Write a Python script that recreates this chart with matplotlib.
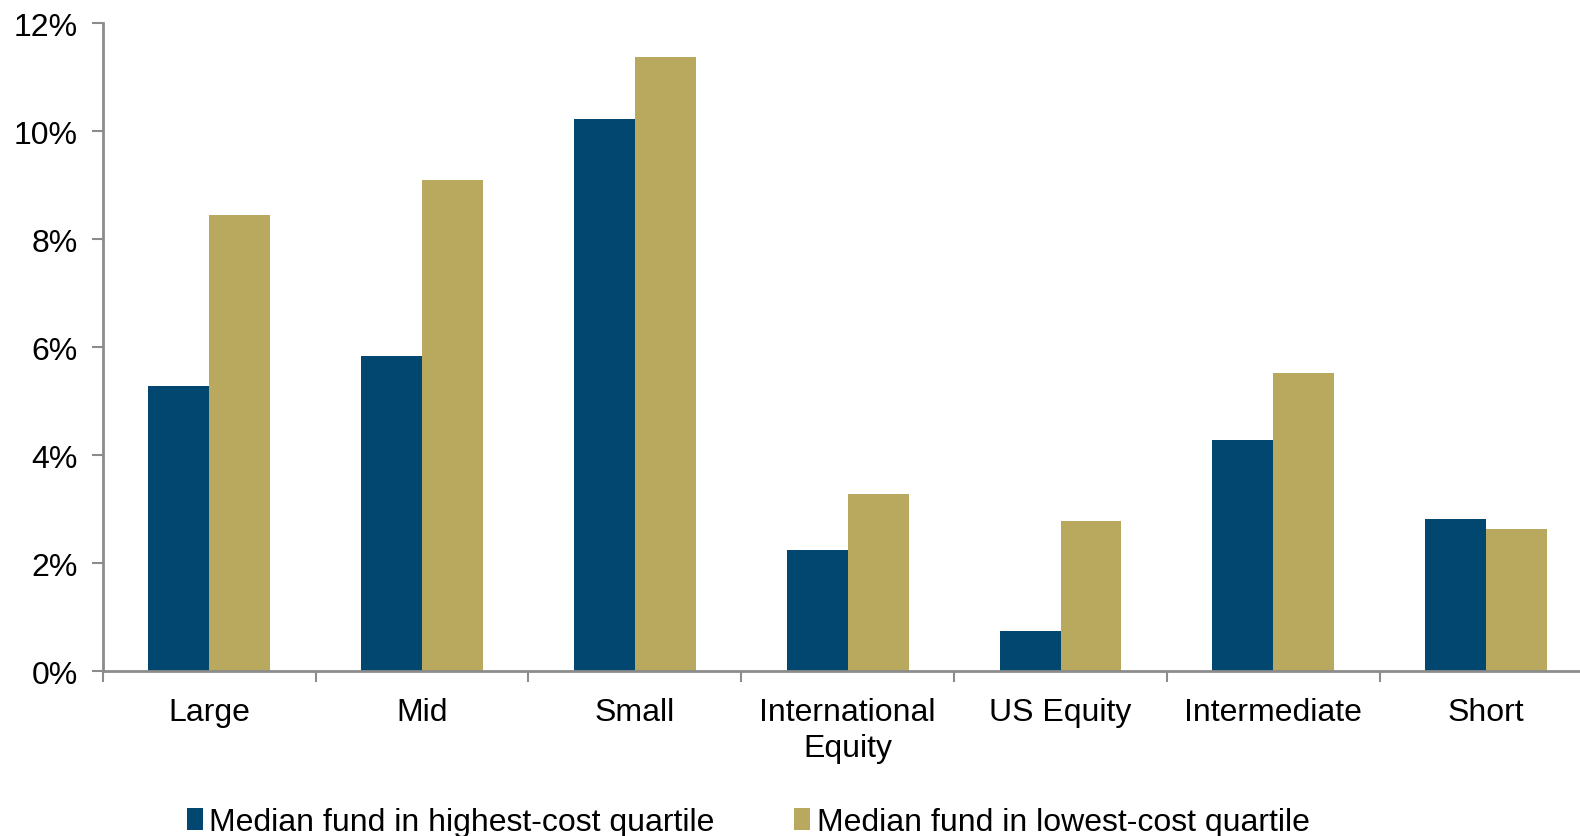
import matplotlib.pyplot as plt
import matplotlib.ticker as mticker
import numpy as np

plt.rcParams['font.family'] = ['Liberation Sans', 'DejaVu Sans']

categories = ["Large", "Mid", "Small", "International\nEquity", "US Equity", "Intermediate", "Short"]
highest_cost = [5.29, 5.83, 10.23, 2.24, 0.75, 4.29, 2.81]
lowest_cost = [8.44, 9.09, 11.37, 3.28, 2.78, 5.53, 2.63]
series_names = ["Median fund in highest-cost quartile", "Median fund in lowest-cost quartile"]

dark = "#02476F"
gold = "#B9A95F"
grey = "#8C8C8C"

fig = plt.figure(figsize=(15.8, 8.37), dpi=100)
ax = fig.add_axes([0.065, 0.197, 0.943, 0.774])

x = np.arange(len(categories))
w = 0.286
ax.bar(x, highest_cost, width=-w, align='edge', color=dark, label=series_names[0])
ax.bar(x, lowest_cost, width=w, align='edge', color=gold, label=series_names[1])

ax.set_xlim(-0.5, len(categories) - 0.5)
ax.set_ylim(0, 12)
ax.yaxis.set_major_locator(mticker.MultipleLocator(2))
ax.yaxis.set_major_formatter(mticker.FuncFormatter(lambda v, p: f"{v:.0f}%"))

# category labels centred, boundary ticks between them
ax.set_xticks(x)
ax.set_xticklabels(categories, fontsize=23, linespacing=1.25)
ax.tick_params(axis='x', which='major', length=0, pad=19)
ax.set_xticks(np.arange(-0.5, len(categories), 1), minor=True)
ax.tick_params(axis='x', which='minor', length=8, width=1.5, color=grey)
ax.tick_params(axis='y', length=8, width=1.5, color=grey, labelsize=23, pad=10)

for s in ['top', 'right']:
    ax.spines[s].set_visible(False)
for s in ['left', 'bottom']:
    ax.spines[s].set_color(grey)
    ax.spines[s].set_linewidth(2)

fig.legend(loc='lower left', bbox_to_anchor=(0.110, -0.017), ncol=2, frameon=False,
           fontsize=23, handlelength=0.5, handleheight=0.7, handletextpad=0.2,
           columnspacing=2.5, borderaxespad=0)

fig.savefig("out.png", dpi=100)
